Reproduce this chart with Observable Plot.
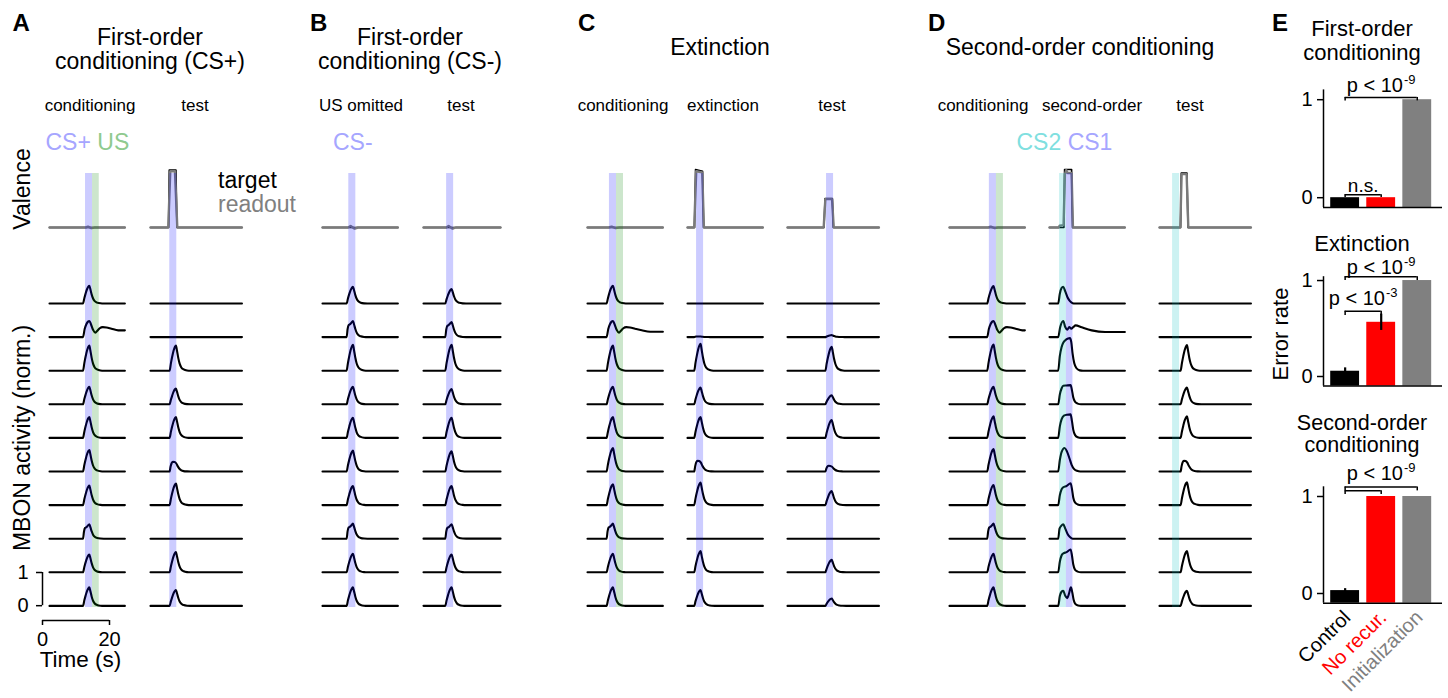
<!DOCTYPE html>
<html><head><meta charset="utf-8">
<script src="https://cdn.jsdelivr.net/npm/d3@7"></script>
<script src="https://cdn.jsdelivr.net/npm/@observablehq/plot@0.6"></script>
<style>
body{margin:0;background:#fff;font-family:"Liberation Sans",Arial,sans-serif;}
#fig{position:relative;width:1448px;height:698px;overflow:hidden;background:#fff;}
.t{position:absolute;white-space:nowrap;line-height:1;color:#000;}
.p{position:absolute;}
</style></head><body><div id="fig"></div>
<script>
// ====================== DATA ======================
// ---- Panel E: error rates ----
const barCategories = ["Control", "No recur.", "Initialization"];
const firstOrderErr = [0.0, 0.0, 1.0];
const extinctionErr = [0.055, 0.565, 1.0];
const extinctionSEM = [0.035, 0.085, 0];
const secondOrderErr = [0.03, 1.0, 1.0];
const secondOrderSEM = [0.02, 0, 0];

// ---- scale-bar ticks ----
const scaleTimeTicks = [0, 20];
const scaleActTicks = [0, 1];

// ---- response shapes (normalised, time relative to response onset, s) ----
const kernelPeak = [[0,0],[0.4,0.3],[0.8,0.57],[1.2,0.8],[1.6,0.95],[1.9,1],[2.2,0.8],[2.6,0.5],[3.0,0.28],[3.5,0.13],[4.2,0.05],[5.2,0.01],[6.2,0]];
const kernelKink = [[0,0],[0.3,0.5],[0.6,0.74],[0.9,0.78],[1.3,0.86],[1.9,1],[2.2,0.8],[2.6,0.5],[3.0,0.28],[3.5,0.13],[4.2,0.05],[5.2,0.01],[6.2,0]];
const kernelFlat = [[0,0],[0.3,0.5],[0.6,0.85],[1.0,1],[1.5,0.97],[2.0,0.82],[2.5,0.5],[3.0,0.26],[3.5,0.12],[4.2,0.04],[5.2,0.01],[6.2,0]];
const kernelTail = [[0,0],[0.5,0.5],[1.0,0.8],[1.5,0.96],[1.9,1],[2.4,0.78],[3.0,0.45],[3.7,0.28],[4.3,0.4],[5.0,0.55],[5.9,0.62],[7.0,0.6],[8.5,0.52],[10.5,0.42],[13,0.33],[17,0.27]];

// ---- column durations (s) ----
const durations = {A1:22.5, A2:27.3, B1:22.5, B2:23.0, C1:22.5, C2:22.5, C3:27.3, D1:22.5, D2:22.5, D3:27.3};
// ---- response onset times (s) ----
const onsets = {A1:10.0, A2:5.7, B1:7.2, B2:6.5, C1:5.7, C2:2.0, C3:11.3, D1:11.25, D2:2.6, D3:6.3};

// ---- stimulus windows [type, start, end] (s) ----
const stimA1 = [["CS",10.75,12.85],["US",12.85,14.85]];
const stimA2 = [["CS",5.75,7.85]];
const stimB1 = [["CS",7.85,9.95]];
const stimB2 = [["CS",6.9,9.0]];
const stimC1 = [["CS",6.55,8.65],["US",8.65,10.75]];
const stimC2 = [["CS",2.7,4.8]];
const stimC3 = [["CS",11.65,13.75]];
const stimD1 = [["CS",11.9,14.0],["US",14.0,16.1]];
const stimD2 = [["CS2",3.0,5.05],["CS",5.05,7.0]];
const stimD3 = [["CS2",3.9,6.0]];

// ---- MBON peak amplitudes (norm.) and shapes, 10 MBONs per column ----
const ampA1 = [0.53,0.48,0.75,0.52,0.62,0.64,0.58,0.43,0.53,0.55];
const shpA1 = ["peak","tail","peak","peak","peak","peak","peak","kink","peak","peak"];
const ampA2 = [0,0,0.75,0.47,0.62,0.29,0.64,0,0.60,0.47];
const shpA2 = ["peak","peak","peak","peak","peak","flat","peak","peak","peak","peak"];
const ampB1 = [0.50,0.48,0.77,0.52,0.60,0.62,0.57,0.45,0.55,0.55];
const shpB1 = ["peak","kink","peak","peak","peak","peak","peak","kink","peak","peak"];
const ampB2 = [0.43,0.45,0.77,0.45,0.60,0.60,0.57,0.43,0.53,0.55];
const shpB2 = ["peak","kink","peak","peak","peak","peak","peak","kink","peak","peak"];
const ampC1 = [0.53,0.48,0.75,0.52,0.62,0.70,0.62,0.45,0.55,0.55];
const shpC1 = ["peak","tail","peak","peak","peak","peak","peak","kink","peak","peak"];
const ampC2 = [0,0.02,0.80,0.50,0.62,0.32,0.67,0,0.63,0.47];
const shpC2 = ["peak","flat","peak","peak","peak","flat","peak","peak","peak","peak"];
const ampC3 = [0,0.06,0.71,0.27,0.53,0.17,0.42,0,0.37,0.22];
const shpC3 = ["peak","peak","peak","peak","peak","flat","peak","peak","peak","peak"];
const ampD1 = [0.52,0.48,0.78,0.52,0.64,0.67,0.60,0.45,0.55,0.55];
const shpD1 = ["peak","tail","peak","peak","peak","peak","peak","kink","peak","peak"];
const ampD3 = [0,0,0.76,0.50,0.64,0.32,0.68,0,0.63,0.45];
const shpD3 = ["peak","peak","peak","peak","peak","flat","peak","peak","peak","peak"];
// second-order phase: individual traces (time rel. onset, activity)
const d2r1 = [[0,0],[0.5,0.3],[1.0,0.46],[1.5,0.5],[2.1,0.36],[2.8,0.18],[3.5,0.07],[4.3,0.01],[5.0,0]];
const d2r2 = [[0,0],[0.6,0.3],[1.5,0.48],[2.1,0.3],[2.7,0.22],[3.3,0.3],[3.9,0.25],[4.5,0.3],[5.2,0.35],[7,0.29],[10,0.2],[14,0.15],[19.9,0.13]];
const d2r3 = [[0,0],[0.5,0.45],[1.0,0.7],[1.6,0.85],[2.4,0.93],[3.5,0.97],[3.9,0.85],[4.3,0.5],[4.8,0.22],[5.4,0.08],[6.4,0.01],[7.4,0]];
const d2r4 = [[0,0],[0.5,0.3],[1.0,0.47],[1.5,0.55],[2.5,0.56],[3.7,0.57],[4.1,0.42],[4.5,0.2],[5.0,0.08],[5.8,0.02],[6.8,0]];
const d2r5 = [[0,0],[0.5,0.35],[1.0,0.55],[1.7,0.66],[2.6,0.69],[3.7,0.7],[4.1,0.5],[4.5,0.24],[5.0,0.09],[5.8,0.02],[6.8,0]];
const d2r6 = [[0,0],[0.5,0.35],[1.0,0.58],[1.9,0.7],[2.6,0.6],[3.4,0.38],[4.0,0.2],[4.7,0.08],[5.6,0.02],[6.6,0]];
const d2r7 = [[0,0],[0.5,0.3],[1.0,0.47],[1.5,0.53],[2.5,0.57],[3.7,0.65],[4.1,0.48],[4.5,0.22],[5.0,0.08],[5.8,0.02],[6.8,0]];
const d2r8 = [[0,0],[0.4,0.3],[0.9,0.38],[1.5,0.43],[2.1,0.3],[2.8,0.14],[3.5,0.05],[4.3,0]];
const d2r9 = [[0,0],[0.5,0.32],[1.0,0.5],[1.5,0.56],[2.5,0.6],[3.7,0.68],[4.1,0.5],[4.5,0.23],[5.0,0.08],[5.8,0.02],[6.8,0]];
const d2r10 = [[0,0],[0.5,0.3],[1.0,0.42],[1.5,0.45],[2.1,0.3],[2.7,0.23],[3.2,0.36],[3.8,0.55],[4.2,0.4],[4.6,0.18],[5.1,0.06],[5.9,0.01],[6.8,0]];
const tracesD2 = [d2r1,d2r2,d2r3,d2r4,d2r5,d2r6,d2r7,d2r8,d2r9,d2r10];

// ---- valence: target and readout [t (s), valence] ----
const valTgtA1 = [[0,0],[22.5,0]];
const valRdA1  = [[0,0],[10.8,0],[11.5,0.015],[12.5,-0.01],[13.5,0],[22.5,0]];
const valTgtA2 = [[0,0],[5.4,0],[5.6,0.99],[7.6,0.99],[7.9,0],[27.3,0]];
const valRdA2  = [[0,0],[5.3,0],[5.9,0.97],[7.3,0.97],[8.0,0],[27.3,0]];
const valTgtB1 = [[0,0],[22.5,0]];
const valRdB1  = [[0,0],[7.6,0],[8.4,0.025],[9.6,-0.02],[10.6,0],[22.5,0]];
const valTgtB2 = [[0,0],[23.0,0]];
const valRdB2  = [[0,0],[6.8,0],[7.5,0.025],[8.7,-0.02],[9.6,0],[23.0,0]];
const valTgtC1 = [[0,0],[22.5,0]];
const valRdC1  = [[0,0],[6.3,0],[7.2,0.015],[8.4,-0.01],[9.5,0],[22.5,0]];
const valTgtC2 = [[0,0],[2.1,0],[2.4,1.0],[4.5,0.97],[4.8,0],[22.5,0]];
const valRdC2  = [[0,0],[2.0,0],[2.6,0.97],[4.4,0.95],[4.9,0],[22.5,0]];
const valTgtC3 = [[0,0],[10.9,0],[11.2,0.5],[13.4,0.5],[13.7,0],[27.3,0]];
const valRdC3  = [[0,0],[10.8,0],[11.3,0.49],[13.3,0.49],[13.8,0],[27.3,0]];
const valTgtD1 = [[0,0],[22.5,0]];
const valRdD1  = [[0,0],[11.5,0],[12.3,0.015],[13.5,-0.01],[14.5,0],[22.5,0]];
const valTgtD2 = [[0,0],[4.3,0],[4.5,1.0],[6.6,1.0],[6.9,0],[22.5,0]];
const valRdD2  = [[0,0],[2.7,0],[3.0,0.03],[4.2,0.04],[4.6,0.92],[5.0,0.99],[5.4,0.94],[6.6,0.94],[7.0,0],[22.5,0]];
const valTgtD3 = [[0,0],[6.3,0],[6.5,0.94],[8.2,0.94],[8.5,0],[27.3,0]];
const valRdD3  = [[0,0],[6.2,0],[6.6,0.92],[8.1,0.92],[8.6,0],[27.3,0]];

// ====================== LAYOUT / STYLE ======================
const fig = document.getElementById("fig");
const FONT = '"Liberation Sans", Arial, sans-serif';
const STYLE = {fontFamily: FONT, background: "transparent", overflow: "visible"};
const PX_PER_S = 3.35, ROW_PX = 33.6, ROW0_Y = 303, VAL_BASE_Y = 227, VAL_UNIT_PX = 58;
const Y_TOP = 160, Y_BOT = 612, BAND_TOP = 173, BAND_BOT = 607, PAD = 3;
const yU = px => (ROW0_Y - px) / ROW_PX;
const VAL_OFF = yU(VAL_BASE_Y), VAL_GAIN = VAL_UNIT_PX / ROW_PX;
const STIM_COLOR = {CS: "rgb(0,0,255)", US: "rgb(0,128,0)", CS2: "rgb(0,191,191)"};
const BAR_COLORS = ["#000000", "#ff0000", "#808080"];
const colLeft = {A1:49.3, A2:150, B1:322, B2:423, C1:587, C2:687, C3:787, D1:949, D2:1049, D3:1159};
const intFmt = d => String(d);

const kernels = {peak: kernelPeak, kink: kernelKink, flat: kernelFlat, tail: kernelTail};
const columns = [
  {id:"A1", stim:stimA1, amps:ampA1, shapes:shpA1, valT:valTgtA1, valR:valRdA1},
  {id:"A2", stim:stimA2, amps:ampA2, shapes:shpA2, valT:valTgtA2, valR:valRdA2},
  {id:"B1", stim:stimB1, amps:ampB1, shapes:shpB1, valT:valTgtB1, valR:valRdB1},
  {id:"B2", stim:stimB2, amps:ampB2, shapes:shpB2, valT:valTgtB2, valR:valRdB2},
  {id:"C1", stim:stimC1, amps:ampC1, shapes:shpC1, valT:valTgtC1, valR:valRdC1},
  {id:"C2", stim:stimC2, amps:ampC2, shapes:shpC2, valT:valTgtC2, valR:valRdC2},
  {id:"C3", stim:stimC3, amps:ampC3, shapes:shpC3, valT:valTgtC3, valR:valRdC3},
  {id:"D1", stim:stimD1, amps:ampD1, shapes:shpD1, valT:valTgtD1, valR:valRdD1},
  {id:"D2", stim:stimD2, explicit:tracesD2, valT:valTgtD2, valR:valRdD2},
  {id:"D3", stim:stimD3, amps:ampD3, shapes:shpD3, valT:valTgtD3, valR:valRdD3}
];

function buildRows(c) {
  const T = durations[c.id], on = onsets[c.id], out = [];
  for (let r = 0; r < 10; r++) {
    let pts;
    if (c.explicit) pts = c.explicit[r].map(([t, v]) => [on + t, v]);
    else if (c.amps[r] === 0) pts = [];
    else pts = kernels[c.shapes[r]].map(([t, v]) => [on + t, c.amps[r] * v]);
    pts = pts.filter(([t]) => t > 0 && t < T);
    const last = pts.length ? pts[pts.length - 1][1] : 0;
    [[0, 0], ...pts, [T, last]].forEach(([t, v]) => out.push({row: r, t, v}));
  }
  return out;
}

function place(el, left, top) {
  const d = document.createElement("div");
  d.className = "p";
  d.style.left = left + "px"; d.style.top = top + "px";
  d.appendChild(el);
  fig.appendChild(d);
}

function tracePlot(c) {
  const T = durations[c.id];
  const mb = buildRows(c);
  return Plot.plot({
    width: T * PX_PER_S + 2 * PAD, height: Y_BOT - Y_TOP,
    marginLeft: PAD, marginRight: PAD, marginTop: 0, marginBottom: 0,
    style: STYLE,
    x: {domain: [0, T], axis: null},
    y: {domain: [yU(Y_BOT), yU(Y_TOP)], axis: null},
    color: {type: "identity"},
    marks: [
      Plot.line(c.valT, {x: d => d[0], y: d => VAL_OFF + VAL_GAIN * d[1], stroke: "#000", strokeWidth: 1.6}),
      Plot.line(c.valR, {x: d => d[0], y: d => VAL_OFF + VAL_GAIN * d[1], stroke: "#7a7a7a", strokeWidth: 2.4}),
      Plot.line(mb, {x: "t", y: d => -d.row + d.v, z: "row", stroke: "#000", strokeWidth: 2.1, curve: "monotone-x"}),
      Plot.rect(c.stim, {x1: d => d[1], x2: d => d[2], y1: () => yU(BAND_BOT), y2: () => yU(BAND_TOP),
        fill: d => STIM_COLOR[d[0]], fillOpacity: 0.2})
    ]
  });
}
columns.forEach(c => place(tracePlot(c), colLeft[c.id] - PAD, Y_TOP));

// ---- scale bars ----
(function () {
  const x0 = 42, yTop = 572, yZero = 605, yBar = 620, ml = 30, mt = 10, mb = 40;
  const lo = -(yBar - yZero) / ROW_PX;
  const p = Plot.plot({
    width: ml + 20 * PX_PER_S + 20, height: mt + (yBar - yTop) + mb,
    marginLeft: ml, marginRight: 20, marginTop: mt, marginBottom: mb,
    style: {...STYLE, fontSize: "20px"},
    x: {domain: [0, 20]}, y: {domain: [lo, 1]},
    marks: [
      Plot.ruleX([0], {y1: () => 0, y2: () => 1, strokeWidth: 1.5}),
      Plot.ruleY([lo], {x1: () => 0, x2: () => 20, strokeWidth: 1.5}),
      Plot.axisY({ticks: scaleActTicks, tickFormat: intFmt, tickSize: 6, tickPadding: 8, fontSize: 20, label: null, strokeWidth: 1.5}),
      Plot.axisX({ticks: scaleTimeTicks, tickFormat: intFmt, tickSize: 5, tickPadding: 6, fontSize: 20, label: null, strokeWidth: 1.5})
    ]
  });
  place(p, x0 - ml, yTop - mt);
})();

// ---- panel E bar charts ----
const X_DOM = [-0.6, 2.7];
const measureCtx = document.createElement("canvas").getContext("2d");
function textW(s, size) { measureCtx.font = `${size}px ${FONT}`; return measureCtx.measureText(s).width; }

function barPlot(cfg) {
  const {vals, sem, yDom, fTop, fBot, sTop, sBot, brackets, labels, xlabels} = cfg;
  const data = vals.map((v, i) => ({i, v, s: sem ? sem[i] : 0}));
  const marks = [
    Plot.rect(data, {x1: d => d.i - 0.4, x2: d => d.i + 0.4, y1: () => yDom[0], y2: d => d.v, fill: d => BAR_COLORS[d.i]}),
    Plot.ruleX(data.filter(d => d.s > 0), {x: "i", y1: d => d.v - d.s, y2: d => d.v + d.s, stroke: "#000", strokeWidth: 2.2}),
    Plot.ruleY([yDom[0]], {x1: () => X_DOM[0], x2: () => X_DOM[1], strokeWidth: 1.5}),
    Plot.ruleX([X_DOM[0]], {y1: () => yDom[0], y2: () => yDom[1], strokeWidth: 1.5}),
    Plot.axisY({ticks: [0, 1], tickFormat: intFmt, tickSize: 6, tickPadding: 5, fontSize: 20, label: null, strokeWidth: 1.5})
  ];
  brackets.forEach(b => {
    marks.push(Plot.ruleY([b], {x1: "x1", x2: "x2", y: "y", strokeWidth: 1.5}));
    marks.push(Plot.ruleX([b.x1, b.x2], {x: d => d, y1: () => b.y - b.drop, y2: () => b.y, strokeWidth: 1.5}));
  });
  labels.forEach(l => {
    if (l.sup) {
      const w = textW(l.main, 20), ws = textW(l.sup, 13), tot = w + ws + 1;
      marks.push(Plot.text([l], {x: "x", y: "y", text: "main", textAnchor: "end", lineAnchor: "bottom", fontSize: 20, dx: tot / 2 - ws - 1}));
      marks.push(Plot.text([l], {x: "x", y: "y", text: "sup", textAnchor: "start", lineAnchor: "bottom", fontSize: 13, dx: tot / 2 - ws, dy: -8}));
    } else {
      marks.push(Plot.text([l], {x: "x", y: "y", text: "main", textAnchor: "middle", lineAnchor: "bottom", fontSize: 19}));
    }
  });
  if (xlabels) {
    marks.push(Plot.text(barCategories, {x: (d, i) => i, y: () => yDom[0], text: d => d, rotate: -45,
      textAnchor: "end", lineAnchor: "middle", fontSize: 20, dx: 2, dy: 11, fill: (d, i) => BAR_COLORS[i]}));
  }
  const ml = 33, mr = 6, fw = 119;
  const p = Plot.plot({
    width: ml + fw + mr, height: sBot - sTop,
    marginLeft: ml, marginRight: mr, marginTop: fTop - sTop, marginBottom: sBot - fBot,
    style: {...STYLE, fontSize: "20px"},
    x: {domain: X_DOM, axis: null},
    y: {domain: yDom, axis: null},
    color: {type: "identity"},
    marks
  });
  place(p, 1323 - ml, sTop);
}

barPlot({vals: firstOrderErr, yDom: [-0.1, 1.1], fTop: 89.4, fBot: 207, sTop: 66, sBot: 215,
  brackets: [{x1: 0, x2: 2, y: 1.023, drop: 0.035}, {x1: 0, x2: 1, y: 0.03, drop: 0.028}],
  labels: [{x: 1, y: 1.077, main: "p < 10", sup: "-9"}, {x: 0.5, y: 0.055, main: "n.s."}]});
barPlot({vals: extinctionErr, sem: extinctionSEM, yDom: [-0.1, 1.04], fTop: 276.2, fBot: 385.6, sTop: 250, sBot: 394,
  brackets: [{x1: 0, x2: 2, y: 1.04, drop: 0.04}, {x1: 0, x2: 1, y: 0.68, drop: 0.045}],
  labels: [{x: 1, y: 1.065, main: "p < 10", sup: "-9"}, {x: 0.5, y: 0.74, main: "p < 10", sup: "-3"}]});
barPlot({vals: secondOrderErr, sem: secondOrderSEM, yDom: [-0.1, 1.1], fTop: 486.3, fBot: 602.7, sTop: 462, sBot: 698,
  brackets: [{x1: 0, x2: 2, y: 1.098, drop: 0.04}, {x1: 0, x2: 1, y: 1.06, drop: 0.04}],
  labels: [{x: 1, y: 1.165, main: "p < 10", sup: "-9"}], xlabels: true});

// ---- text ----
function label(str, x, base, size, o = {}) {
  const {anchor = "start", color = "#000", weight = "normal", rotate = 0, html = false} = o;
  const d = document.createElement("div");
  d.className = "t";
  d.style.fontSize = size + "px"; d.style.color = color; d.style.fontWeight = weight;
  if (html) d.innerHTML = str; else d.textContent = str;
  d.style.left = x + "px";
  if (!rotate) {
    d.style.top = (base - 0.8465 * size) + "px";
    const tx = anchor === "middle" ? "-50%" : anchor === "end" ? "-100%" : "0";
    d.style.transform = `translateX(${tx})`;
  } else {
    d.style.top = base + "px";
    d.style.transform = `translate(-50%,-50%) rotate(${rotate}deg)`;
  }
  fig.appendChild(d);
}
// panel letters
[["A", 12.5], ["B", 310], ["C", 578], ["D", 928], ["E", 1272]].forEach(([s, x]) => label(s, x, 31, 24, {weight: "bold"}));
// titles
label("First-order", 150, 45, 23, {anchor: "middle"});
label("conditioning (CS+)", 150, 69, 23, {anchor: "middle"});
label("First-order", 410, 45, 23, {anchor: "middle"});
label("conditioning (CS-)", 410, 69, 23, {anchor: "middle"});
label("Extinction", 720, 55, 23, {anchor: "middle"});
label("Second-order conditioning", 1080, 55, 23, {anchor: "middle"});
label("First-order", 1362, 37, 22, {anchor: "middle"});
label("conditioning", 1362, 61, 22, {anchor: "middle"});
label("Extinction", 1362, 252, 22, {anchor: "middle"});
label("Second-order", 1362, 431, 21.5, {anchor: "middle"});
label("conditioning", 1362, 453.5, 21.5, {anchor: "middle"});
// phase labels
[["conditioning", 90], ["test", 195], ["US omitted", 361], ["test", 461], ["conditioning", 623], ["extinction", 723],
 ["test", 832], ["conditioning", 983], ["second-order", 1092], ["test", 1190]].forEach(([s, x]) => label(s, x, 111, 17, {anchor: "middle"}));
// stimulus legends
label('<span style="color:#a6a6ff">CS+</span> <span style="color:#8fca8f">US</span>', 45.5, 150, 23, {html: true});
label('<span style="color:#a6a6ff">CS-</span>', 333, 150, 23, {html: true});
label('<span style="color:#80dfdf">CS2</span> <span style="color:#a6a6ff">CS1</span>', 1016.5, 150, 23, {html: true});
label("target", 218, 188, 23);
label("readout", 218, 212, 23, {color: "#808080"});
label("Valence", 22, 189, 23, {rotate: -90});
label("MBON activity (norm.)", 22, 438, 23, {rotate: -90});
label("Time (s)", 80.5, 668, 22.5, {anchor: "middle"});
label("Error rate", 1281, 334, 22, {rotate: -90});
</script></body></html>
